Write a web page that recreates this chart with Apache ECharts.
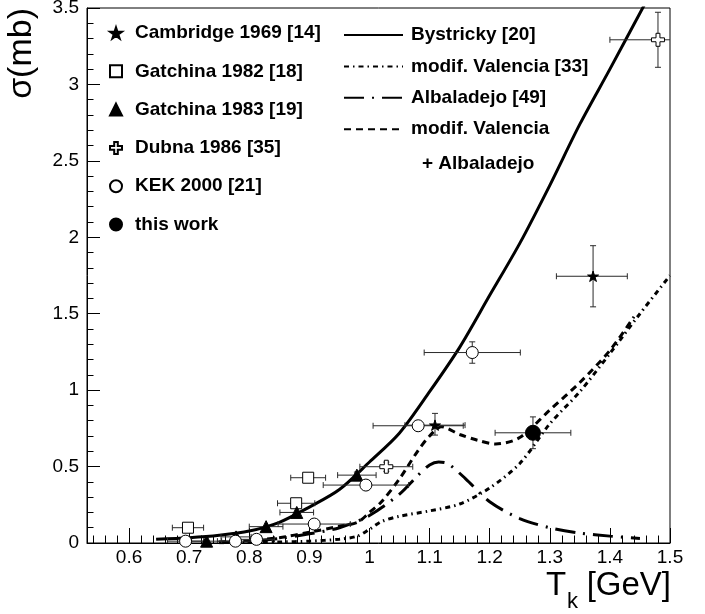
<!DOCTYPE html>
<html><head><meta charset="utf-8">
<script src="https://cdn.jsdelivr.net/npm/echarts@6/dist/echarts.min.js"></script>
<style>html,body{margin:0;padding:0;background:#fff}#c{width:705px;height:614px}</style>
</head><body><div id="c"></div>
<script>
// ---- axis ticks ----
const xTicks = [0.6, 0.7, 0.8, 0.9, 1.0, 1.1, 1.2, 1.3, 1.4, 1.5];
const xMinorTicks = [0.54, 0.56, 0.58, 0.62, 0.64, 0.66, 0.68, 0.72, 0.74, 0.76, 0.78,
  0.82, 0.84, 0.86, 0.88, 0.92, 0.94, 0.96, 0.98, 1.02, 1.04, 1.06, 1.08,
  1.12, 1.14, 1.16, 1.18, 1.22, 1.24, 1.26, 1.28, 1.32, 1.34, 1.36, 1.38,
  1.42, 1.44, 1.46, 1.48];

// ---- data points: [x, y, exLow, exHigh, eyLow, eyHigh] ----
const cambridge = [[1.109, 0.771, 0.05, 0.05, 0.065, 0.077], [1.372, 1.745, 0.061, 0.057, 0.2, 0.2]];
const gatchina82 = [[0.698, 0.100, 0.026, 0.026, 0.015, 0.015], [0.878, 0.260, 0.031, 0.031, 0.02, 0.02], [0.898, 0.427, 0.029, 0.029, 0.025, 0.025]];
const gatchina83 = [[0.729, 0.012, 0.025, 0.025, 0.006, 0.006], [0.778, 0.040, 0.025, 0.025, 0.01, 0.01], [0.828, 0.107, 0.028, 0.028, 0.012, 0.012], [0.879, 0.200, 0.028, 0.028, 0.015, 0.015], [0.979, 0.444, 0.032, 0.032, 0.02, 0.02]];
const dubna = [[1.028, 0.499, 0.044, 0.044, 0.03, 0.03], [1.480, 3.292, 0.08, 0.08, 0.18, 0.18]];
const kek = [[0.694, 0.012, 0.03, 0.03, 0.01, 0.01], [0.777, 0.012, 0.03, 0.03, 0.008, 0.008], [0.812, 0.024, 0.03, 0.03, 0.01, 0.01], [0.908, 0.124, 0.06, 0.06, 0.02, 0.02], [0.994, 0.379, 0.071, 0.071, 0.03, 0.03], [1.081, 0.767, 0.075, 0.075, 0.03, 0.03], [1.171, 1.246, 0.08, 0.08, 0.07, 0.07]];
const thisWork = [[1.272, 0.721, 0.063, 0.063, 0.104, 0.104]];

// ---- model curves: [x, y] ----
const bystricky = [[0.645, 0.024], [0.7, 0.034], [0.75, 0.05], [0.8, 0.078], [0.85, 0.135], [0.9, 0.235], [0.95, 0.35], [1.0, 0.53], [1.05, 0.72], [1.1, 0.99], [1.15, 1.28], [1.2, 1.62], [1.25, 1.96], [1.3, 2.34], [1.35, 2.74], [1.4, 3.1], [1.46, 3.54]];
const valencia = [[0.75, 0.002], [0.8, 0.004], [0.85, 0.007], [0.9, 0.012], [0.95, 0.025], [0.98, 0.045], [1.0, 0.09], [1.02, 0.14], [1.05, 0.175], [1.1, 0.21], [1.15, 0.255], [1.2, 0.36], [1.25, 0.52], [1.3, 0.78], [1.35, 0.99], [1.4, 1.24], [1.45, 1.5], [1.5, 1.75]];
const albaladejo = [[0.75, 0.005], [0.8, 0.012], [0.85, 0.03], [0.9, 0.06], [0.95, 0.1], [1.0, 0.18], [1.05, 0.32], [1.08, 0.44], [1.1, 0.51], [1.115, 0.53], [1.13, 0.52], [1.16, 0.42], [1.2, 0.27], [1.25, 0.16], [1.3, 0.1], [1.35, 0.065], [1.4, 0.045], [1.45, 0.03]];
const valAlb = [[0.75, 0.006], [0.8, 0.015], [0.85, 0.035], [0.9, 0.07], [0.95, 0.11], [0.98, 0.135], [1.0, 0.2], [1.02, 0.27], [1.05, 0.42], [1.08, 0.6], [1.1, 0.7], [1.12, 0.76], [1.15, 0.71], [1.18, 0.672], [1.21, 0.648], [1.25, 0.69], [1.3, 0.87], [1.35, 1.05], [1.4, 1.26], [1.44, 1.48]];

const FONT = 'Liberation Sans, Arial, Helvetica, sans-serif';
const STAR = 'path://M0,-1 L0.2245,-0.309 L0.951,-0.309 L0.363,0.118 L0.588,0.809 L0,0.382 L-0.588,0.809 L-0.363,0.118 L-0.951,-0.309 L-0.2245,-0.309 Z';
const CROSS = 'path://M-0.3,-1 L0.3,-1 L0.3,-0.3 L1,-0.3 L1,0.3 L0.3,0.3 L0.3,1 L-0.3,1 L-0.3,0.3 L-1,0.3 L-1,-0.3 L-0.3,-0.3 Z';

function renderErr(params, api) {
  const x = api.value(0), y = api.value(1);
  const exl = api.value(2), exh = api.value(3), eyl = api.value(4), eyh = api.value(5);
  const l = api.coord([x - exl, y]), r = api.coord([x + exh, y]);
  const b = api.coord([x, y - eyl]), t = api.coord([x, y + eyh]);
  const st = { stroke: '#2a2a2a', lineWidth: 1, fill: null };
  const cap = 3;
  const ch = [
    { type: 'line', shape: { x1: l[0], y1: l[1], x2: r[0], y2: r[1] }, style: st },
    { type: 'line', shape: { x1: l[0], y1: l[1] - cap, x2: l[0], y2: l[1] + cap }, style: st },
    { type: 'line', shape: { x1: r[0], y1: r[1] - cap, x2: r[0], y2: r[1] + cap }, style: st },
    { type: 'line', shape: { x1: b[0], y1: b[1], x2: t[0], y2: t[1] }, style: st }
  ];
  if (Math.abs(b[1] - t[1]) > 6) {
    ch.push({ type: 'line', shape: { x1: b[0] - cap, y1: b[1], x2: b[0] + cap, y2: b[1] }, style: st });
    ch.push({ type: 'line', shape: { x1: t[0] - cap, y1: t[1], x2: t[0] + cap, y2: t[1] }, style: st });
  }
  return { type: 'group', children: ch };
}

function errSeries(data) {
  return { type: 'custom', renderItem: renderErr, data: data, clip: true, z: 3, silent: true,
    encode: { x: 0, y: 1 } };
}
function markSeries(name, data, symbol, size, fill) {
  return { name: name, type: 'scatter', data: data.map(d => [d[0], d[1]]), symbol: symbol,
    symbolSize: size, symbolKeepAspect: true, z: 5, clip: true,
    itemStyle: { color: fill, borderColor: '#000', borderWidth: 1, opacity: 1 } };
}
function lineSeries(name, data, type) {
  return { name: name, type: 'line', data: data, symbol: 'none', showSymbol: false, smooth: 0.3,
    z: 2, clip: true, lineStyle: { color: '#000', width: 3, type: type }, itemStyle: { color: '#000' } };
}

const chart = echarts.init(document.getElementById('c'), null, { renderer: 'canvas' });
chart.setOption({
  animation: false,
  backgroundColor: '#fff',
  grid: { left: 87, right: 35, top: 8, bottom: 71, show: true, borderColor: '#000', borderWidth: 1,
    backgroundColor: 'transparent', outerBoundsMode: 'none', containLabel: false },
  xAxis: [{
    type: 'value', min: 0.53, max: 1.5, position: 'bottom',
    axisLine: { show: true, onZero: false, lineStyle: { color: '#000', width: 1 } },
    axisTick: { show: true, inside: true, length: 15, customValues: xTicks, lineStyle: { color: '#000' } },
    axisLabel: { show: true, customValues: xTicks, margin: 5, fontSize: 19, fontFamily: FONT, color: '#000',
      formatter: v => String(+(+v).toFixed(2)) },
    splitLine: { show: false }
  }, {
    type: 'value', min: 0.53, max: 1.5, position: 'bottom',
    axisLine: { show: false },
    axisTick: { show: true, inside: true, length: 7.5, customValues: xMinorTicks, lineStyle: { color: '#000' } },
    axisLabel: { show: false },
    splitLine: { show: false }
  }],
  yAxis: {
    type: 'value', min: 0, max: 3.5, interval: 0.5,
    axisLine: { show: true, onZero: false, lineStyle: { color: '#000', width: 1 } },
    axisTick: { show: true, inside: true, length: 13, lineStyle: { color: '#000' } },
    minorTick: { show: true, splitNumber: 5, length: 6.5, lineStyle: { color: '#000' } },
    axisLabel: { margin: 8, fontSize: 19, fontFamily: FONT, color: '#000', formatter: v => String(v) },
    splitLine: { show: false }, minorSplitLine: { show: false }
  },
  legend: [{
    orient: 'vertical', left: 109, top: 23.5, padding: 0, itemWidth: 12, itemHeight: 12, itemGap: 19.3,
    selectedMode: false, symbolKeepAspect: true,
    textStyle: { fontSize: 19, fontWeight: 'bold', fontFamily: FONT, color: '#000', lineHeight: 19, padding: [0, 0, 0, 8] },
    data: ['Cambridge 1969 [14]', 'Gatchina 1982 [18]', 'Gatchina 1983 [19]', 'Dubna 1986 [35]', 'KEK 2000 [21]', 'this work']
  }, {
    orient: 'vertical', left: 343, top: 25.5, padding: 0, itemWidth: 59, itemHeight: 14, itemGap: 12.4,
    selectedMode: false,
    itemStyle: { opacity: 0, color: 'transparent', borderWidth: 0 },
    textStyle: { fontSize: 19, fontWeight: 'bold', fontFamily: FONT, color: '#000', lineHeight: 19, padding: [0, 0, 0, 3] },
    formatter: n => (n === 'modif. Valencia + Albaladejo' ? 'modif. Valencia' : n),
    data: ['Bystricky [20]', 'modif. Valencia [33]', 'Albaladejo [49]', 'modif. Valencia + Albaladejo']
  }],
  graphic: [
    { type: 'text', x: 22, y: 8, rotation: Math.PI / 2, silent: true,
      style: { text: 'σ(mb)', fontSize: 34, fontFamily: FONT, fill: '#000', align: 'right', verticalAlign: 'middle' } },
    { type: 'text', x: 546, y: 586, silent: true,
      style: { text: 'T', fontSize: 33, fontFamily: FONT, fill: '#000', align: 'left', verticalAlign: 'middle' } },
    { type: 'text', x: 567, y: 602, silent: true,
      style: { text: 'k', fontSize: 22, fontFamily: FONT, fill: '#000', align: 'left', verticalAlign: 'middle' } },
    { type: 'text', x: 671, y: 586, silent: true,
      style: { text: '[GeV]', fontSize: 33, fontFamily: FONT, fill: '#000', align: 'right', verticalAlign: 'middle' } },
    { type: 'text', x: 422, y: 164, silent: true,
      style: { text: '+ Albaladejo', fontSize: 19, fontWeight: 'bold', fontFamily: FONT, fill: '#000', align: 'left', verticalAlign: 'middle' } }
  ],
  series: [
    lineSeries('Bystricky [20]', bystricky, 'solid'),
    lineSeries('modif. Valencia [33]', valencia, [5, 4, 1.5, 4]),
    lineSeries('Albaladejo [49]', albaladejo, [20, 8, 2, 8]),
    lineSeries('modif. Valencia + Albaladejo', valAlb, [7, 5]),
    errSeries(cambridge), errSeries(gatchina82), errSeries(gatchina83),
    errSeries(dubna), errSeries(kek), errSeries(thisWork),
    markSeries('Cambridge 1969 [14]', cambridge, STAR, 11, '#000'),
    markSeries('Gatchina 1982 [18]', gatchina82, 'rect', 11, '#fff'),
    markSeries('Gatchina 1983 [19]', gatchina83, 'triangle', 12, '#000'),
    markSeries('Dubna 1986 [35]', dubna, CROSS, 13, '#fff'),
    markSeries('KEK 2000 [21]', kek, 'circle', 12, '#fff'),
    markSeries('this work', thisWork, 'circle', 15, '#000')
  ]
});
</script></body></html>
